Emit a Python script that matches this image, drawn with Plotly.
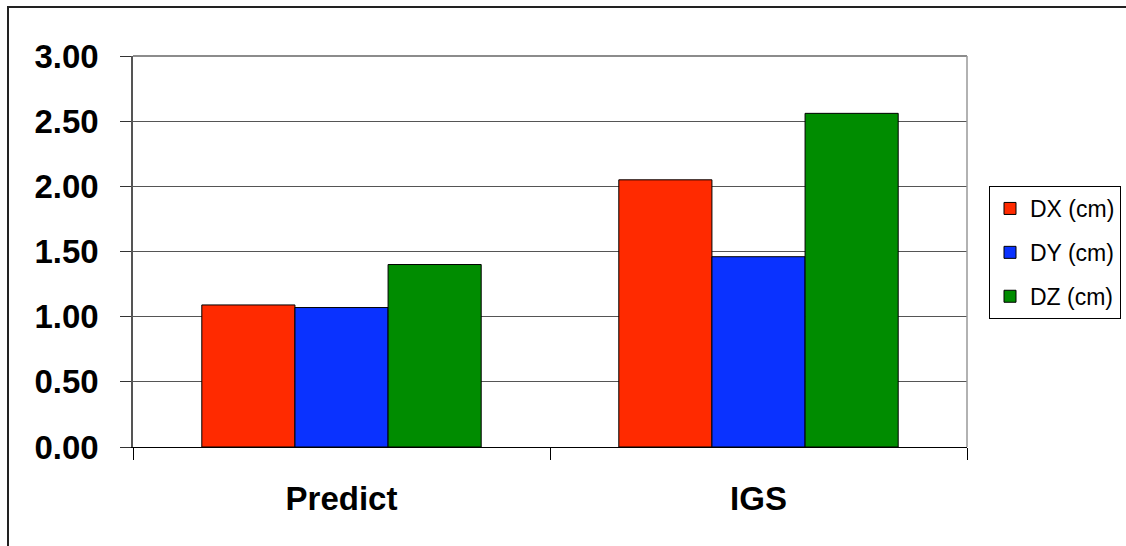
import plotly.graph_objects as go

# Data
categories = ["Predict", "IGS"]
series_names = ["DX (cm)", "DY (cm)", "DZ (cm)"]
dx_values = [1.09, 2.05]
dy_values = [1.07, 1.46]
dz_values = [1.40, 2.56]
y_ticks = [0, 0.5, 1.0, 1.5, 2.0, 2.5, 3.0]

series_values = [dx_values, dy_values, dz_values]
colors = ["#FF2A00", "#0A32FF", "#008C00"]

FONT = "Liberation Sans, Arial, sans-serif"

W, H = 1126, 546
L, R, T, B = 133, 159, 56, 99
plot_w = W - L - R
plot_h = H - T - B

fig = go.Figure()
for i, (name, vals, col) in enumerate(zip(series_names, series_values, colors)):
    fig.add_trace(go.Bar(
        x=categories, y=vals, name=name,
        marker=dict(color=col, line=dict(color="#000000", width=1)),
        legendgroup=f"g{i}",
    ))

def px_x(px):
    return (px - L) / plot_w

def px_y(py):
    return (H - B - py) / plot_h

# Outer chart frame
fig.add_shape(type="rect", xref="paper", yref="paper",
              x0=px_x(8), x1=px_x(1140), y0=px_y(560), y1=px_y(7),
              line=dict(color="#222222", width=2), fillcolor="rgba(0,0,0,0)",
              layer="below")
# Plot area top and right edges
fig.add_shape(type="line", xref="paper", yref="paper", x0=0, x1=1, y0=1, y1=1,
              line=dict(color="#666666", width=1.5))
fig.add_shape(type="line", xref="paper", yref="paper", x0=1, x1=1, y0=0, y1=1,
              line=dict(color="#999999", width=1.5))

fig.update_layout(
    width=W, height=H,
    margin=dict(l=L, r=R, t=T, b=B, pad=0, autoexpand=False),
    paper_bgcolor="white", plot_bgcolor="white",
    barmode="group", bargap=0.33, bargroupgap=0,
    font=dict(family=FONT, color="#000000"),
    showlegend=True,
    legend=dict(
        x=px_x(989), y=px_y(186), xanchor="left", yanchor="top",
        font=dict(family=FONT, size=23, color="#000000"),
        bordercolor="#000000", borderwidth=1, bgcolor="white",
        tracegroupgap=11, traceorder="grouped",
    ),
    xaxis=dict(
        type="category", tickson="boundaries",
        ticks="outside", ticklen=12, tickcolor="#000000", tickwidth=1,
        showline=True, linecolor="#000000", linewidth=1,
        mirror=False, showgrid=False,
        tickfont=dict(family=FONT, size=33, color="#000000", weight="bold"),
        ticklabelstandoff=22,
    ),
    yaxis=dict(
        range=[0, 3], tickvals=y_ticks, tickformat=".2f",
        ticks="outside", ticklen=11, tickcolor="#333333", tickwidth=1,
        showline=True, linecolor="#555555", linewidth=1.5, mirror=False,
        showgrid=True, gridcolor="#555555", gridwidth=1,
        zeroline=False,
        tickfont=dict(family=FONT, size=33, color="#000000", weight="bold"),
        ticklabelstandoff=15,
    ),
)

fig.write_html("out.html")
